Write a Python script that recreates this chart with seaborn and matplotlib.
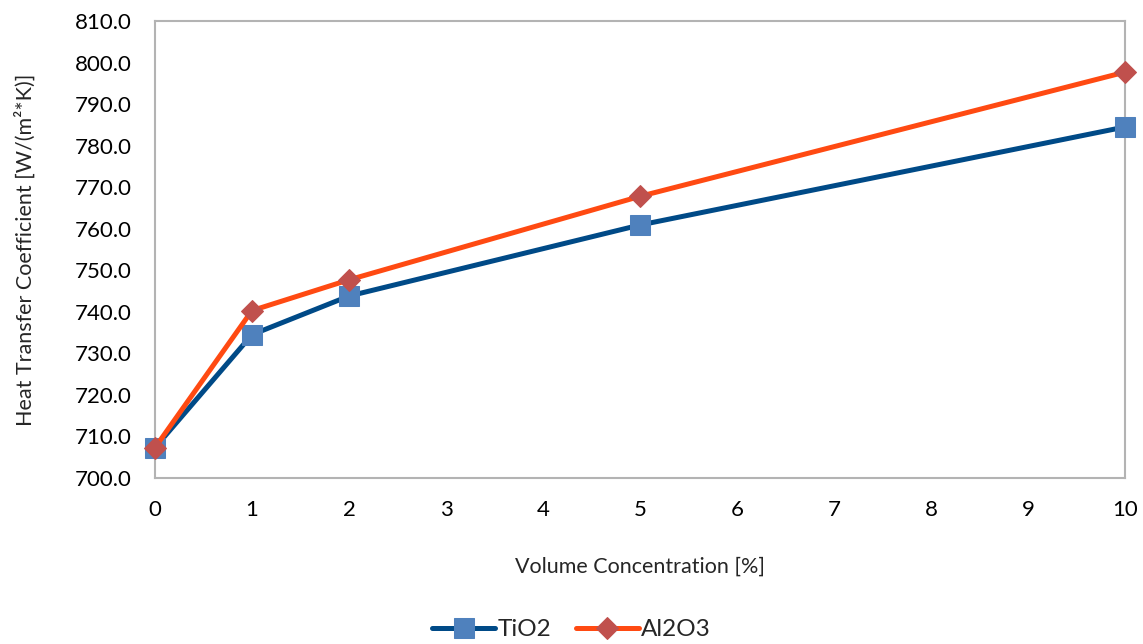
import numpy as np
import pandas as pd
import seaborn as sns
import matplotlib.pyplot as plt
from matplotlib.ticker import FormatStrFormatter

# data
concentration = [0, 1, 2, 5, 10]
tio2 = [707.3, 734.5, 743.8, 760.9, 784.5]
al2o3 = [707.3, 740.3, 747.7, 767.8, 797.7]

sns.set_theme(style='white')
plt.rcParams['font.family'] = ['Lato', 'DejaVu Sans']

fig = plt.figure(figsize=(11.43, 6.44), dpi=100)
ax = fig.add_axes([0.1356, 0.2578, 0.8486, 0.7095])

sns.lineplot(x=concentration, y=tio2, ax=ax, color='#004A87', linewidth=3.6,
             marker='s', markersize=14, markerfacecolor='#4F81BD',
             markeredgecolor='#4F81BD', label='TiO2', zorder=3, clip_on=False)
sns.lineplot(x=concentration, y=al2o3, ax=ax, color='#FF4A12', linewidth=3.6,
             marker='D', markersize=11, markerfacecolor='#C0504D',
             markeredgecolor='#C0504D', label='Al2O3', zorder=4, clip_on=False)

ax.set_xlim(0, 10)
ax.set_ylim(700, 810)
ax.set_xticks(range(0, 11))
ax.set_yticks(np.arange(700, 811, 10))
ax.yaxis.set_major_formatter(FormatStrFormatter('%.1f'))
ax.tick_params(axis='both', labelsize=16, colors='black', length=0)
ax.tick_params(axis='x', pad=16)
ax.tick_params(axis='y', pad=17)
for s in ax.spines.values():
    s.set_color('#B3B3B3')
    s.set_linewidth(1.5)

ax.set_xlabel('Volume Concentration [%]', fontsize=15.5, labelpad=26)
ax.set_ylabel('Heat Transfer Coefficient [W/(m²*K)]', fontsize=15.5, labelpad=28)

ax.get_legend().remove()
handles, labels = ax.get_legend_handles_labels()
fig.legend(handles, labels, loc='center', bbox_to_anchor=(0.5, 0.022), ncol=2,
           frameon=False, fontsize=17.5, handlelength=2.6, columnspacing=1.0,
           handletextpad=0.1)

fig.savefig('out.png', dpi=100)
